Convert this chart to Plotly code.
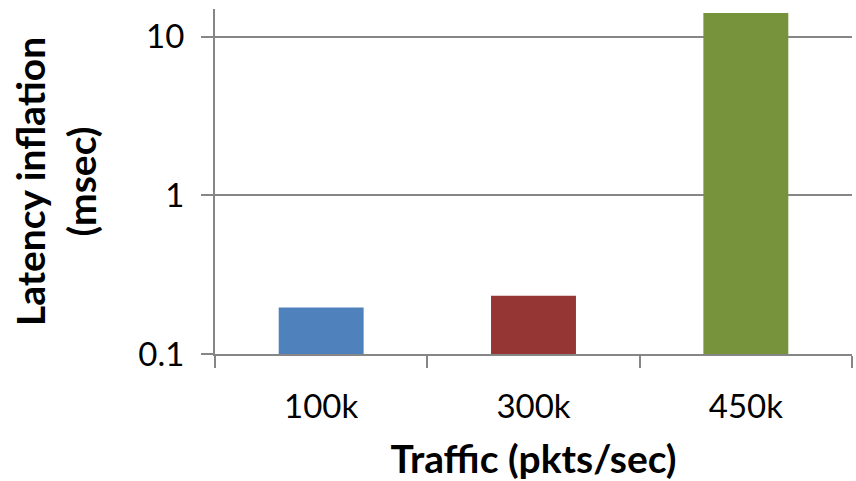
import plotly.graph_objects as go

# Latency inflation measured at each traffic rate
traffic = ["100k", "300k", "450k"]
latency_ms = [0.196, 0.233, 14.1]
bar_colors = ["#4F81BD", "#963634", "#77933C"]

axis_grey = "#868686"
font_family = "Lato, 'Open Sans', sans-serif"

fig = go.Figure(
    go.Bar(
        x=traffic,
        y=latency_ms,
        marker=dict(color=bar_colors, line=dict(width=0)),
    )
)

fig.update_layout(
    width=856,
    height=481,
    margin=dict(l=215, r=4, t=9, b=127),
    paper_bgcolor="white",
    plot_bgcolor="white",
    bargap=0.6,
    showlegend=False,
    font=dict(family=font_family, color="black"),
)

fig.update_xaxes(
    showline=True,
    linecolor=axis_grey,
    linewidth=2,
    ticks="outside",
    tickson="boundaries",
    ticklen=12,
    tickwidth=2,
    tickcolor=axis_grey,
    tickfont=dict(size=33),
    ticklabelstandoff=22,
    showgrid=False,
    title=dict(text="<b>Traffic (pkts/sec)</b>", font=dict(size=39), standoff=24),
)

fig.update_yaxes(
    type="log",
    range=[-1, 1.174],
    tickvals=[0.1, 1, 10],
    ticktext=["0.1", "1", "10"],
    showline=True,
    linecolor=axis_grey,
    linewidth=2,
    ticks="outside",
    ticklen=12,
    tickwidth=2,
    tickcolor=axis_grey,
    tickfont=dict(size=33),
    ticklabelstandoff=10,
    showgrid=True,
    gridcolor=axis_grey,
    gridwidth=2,
    zeroline=False,
    title=dict(text="<b>Latency inflation<br>(msec)</b>", font=dict(size=39), standoff=30),
)

fig.write_html("out.html")
